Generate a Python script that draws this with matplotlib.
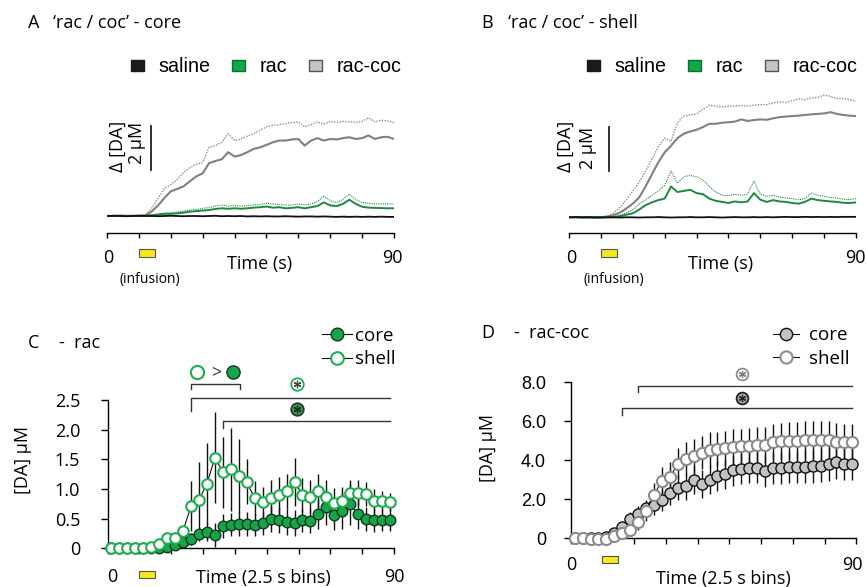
import numpy as np
import matplotlib
matplotlib.use("Agg")
import matplotlib.pyplot as plt
from matplotlib.patches import Rectangle, Patch

plt.rcParams['font.family'] = ['Open Sans', 'DejaVu Sans']

W, H = 866, 587
UM_PX = 22.0  # pixels per uM in the trace panels

# ---- A / B: averaged traces, sampled every 2 s (uM) ----
t_trace = np.arange(0, 91, 2)

core_saline = [0, 0.01, 0, -0.01, 0, 0.01, 0, 0, -0.01, 0,
               0.01, 0, -0.01, 0, 0, -0.01, 0, 0.01, -0.01, 0,
               -0.01, 0, -0.02, -0.01, -0.02, -0.01, -0.02, -0.02, -0.01, -0.02,
               -0.03, -0.02, -0.02, -0.03, -0.02, -0.03, -0.04, -0.03, -0.04, -0.03,
               -0.04, -0.03, -0.04, -0.03, -0.04, -0.04]
core_rac = [0, 0, 0.01, 0, 0, 0.01, 0.01, 0.03, 0.06, 0.1,
            0.1, 0.12, 0.15, 0.2, 0.22, 0.25, 0.27, 0.32, 0.35, 0.33,
            0.35, 0.33, 0.35, 0.38, 0.4, 0.43, 0.38, 0.4, 0.35, 0.37,
            0.4, 0.35, 0.4, 0.45, 0.62, 0.48, 0.45, 0.55, 0.74, 0.55,
            0.42, 0.38, 0.37, 0.36, 0.35, 0.35]
core_rac_hi = [0.02, 0.02, 0.03, 0.02, 0.02, 0.03, 0.03, 0.05, 0.1, 0.12,
               0.15, 0.18, 0.22, 0.27, 0.3, 0.35, 0.38, 0.45, 0.5, 0.45,
               0.48, 0.45, 0.48, 0.5, 0.52, 0.58, 0.55, 0.52, 0.5, 0.5,
               0.55, 0.5, 0.55, 0.65, 0.9, 0.7, 0.62, 0.75, 1.0, 0.75,
               0.62, 0.58, 0.55, 0.55, 0.55, 0.55]
core_raccoc = [0, 0, 0.01, 0, 0.01, 0, 0.02, 0.2, 0.48, 0.82,
               1.12, 1.23, 1.35, 1.58, 1.8, 1.94, 2.4, 2.5, 2.58, 2.9,
               2.7, 2.77, 2.9, 3.05, 3.12, 3.23, 3.35, 3.43, 3.43, 3.48,
               3.5, 3.2, 3.43, 3.54, 3.43, 3.5, 3.48, 3.54, 3.58, 3.5,
               3.54, 3.66, 3.5, 3.58, 3.6, 3.5]
core_raccoc_hi = [0.02, 0.03, 0.02, 0.03, 0.02, 0.03, 0.05, 0.35, 0.8, 1.25,
                  1.43, 1.66, 1.97, 2.2, 2.35, 2.43, 3.12, 3.2, 3.35, 3.74,
                  3.43, 3.5, 3.63, 3.74, 3.9, 4.05, 4.12, 4.15, 4.2, 4.25,
                  4.28, 4.05, 4.15, 4.28, 4.18, 4.3, 4.25, 4.3, 4.28, 4.25,
                  4.3, 4.46, 4.28, 4.35, 4.32, 4.25]

shell_saline = [0, 0.01, 0, 0.01, 0, -0.01, 0, 0, -0.01, 0,
                0, -0.01, 0, 0, 0.01, 0, -0.01, 0, 0, 0.01,
                0, 0, 0.01, 0, -0.01, 0, 0.01, 0, 0, 0.01,
                0, 0.01, 0, 0.01, 0.02, 0.01, 0.01, 0.02, 0.01, 0.02,
                0.01, 0.02, 0.01, 0.02, 0.02, 0.02]
shell_rac = [0, 0, -0.01, 0, -0.01, 0, 0, 0, 0.05, 0.12,
             0.18, 0.35, 0.55, 0.68, 0.78, 0.85, 1.4, 1.15, 1.2, 1.25,
             1.1, 1.05, 0.85, 0.75, 0.7, 0.65, 0.72, 0.68, 0.72, 1.1,
             0.8, 0.7, 0.78, 0.72, 0.7, 0.65, 0.62, 0.7, 0.85, 0.78,
             0.75, 0.72, 0.7, 0.66, 0.65, 0.68]
shell_rac_hi = [0.01, 0.02, 0.01, 0.02, 0.01, 0.02, 0.02, 0.03, 0.1, 0.2,
                0.35, 0.6, 0.8, 1.0, 1.2, 1.45, 2.1, 1.55, 1.85, 1.9,
                1.85, 1.7, 1.4, 1.15, 1.0, 0.98, 1.05, 1.0, 1.05, 1.65,
                1.05, 0.95, 1.0, 0.92, 0.88, 0.85, 0.8, 0.85, 1.1, 1.0,
                0.95, 0.9, 0.88, 0.82, 0.8, 0.85]
shell_raccoc = [0, 0.01, 0, -0.02, -0.02, 0, 0.03, 0.1, 0.22, 0.4,
                0.62, 0.9, 1.4, 1.95, 2.5, 2.95, 3.25, 3.6, 3.8, 3.9,
                3.98, 4.1, 4.25, 4.25, 4.3, 4.32, 4.35, 4.45, 4.38, 4.42,
                4.45, 4.43, 4.5, 4.55, 4.58, 4.6, 4.62, 4.65, 4.68, 4.7,
                4.72, 4.78, 4.7, 4.65, 4.62, 4.6]
shell_raccoc_hi = [0.02, 0.03, 0.02, 0, 0, 0.03, 0.05, 0.2, 0.45, 0.8,
                   1.2, 1.6, 2.1, 2.65, 3.2, 3.6, 3.45, 4.3, 4.6, 4.65,
                   4.7, 4.9, 5.1, 5.05, 5.02, 5.05, 5.05, 5.08, 5.05, 5.1,
                   5.12, 5.12, 5.2, 5.25, 5.22, 5.3, 5.38, 5.35, 5.42, 5.45,
                   5.55, 5.5, 5.4, 5.4, 5.35, 5.28]

# ---- C / D: 2.5 s bins (mean, SEM) ----
t_bins = np.arange(1.25, 90, 2.5)

rac_core = [0, 0, 0, 0, 0, 0, 0.01, 0.03, 0.06, 0.1,
            0.15, 0.24, 0.28, 0.23, 0.37, 0.4, 0.41, 0.41, 0.39, 0.42,
            0.49, 0.48, 0.44, 0.42, 0.47, 0.46, 0.58, 0.69, 0.56, 0.63,
            0.74, 0.58, 0.5, 0.47, 0.47, 0.48]
rac_core_sem = [0.02, 0.02, 0.02, 0.02, 0.02, 0.02, 0.03, 0.04, 0.05, 0.06,
                0.1, 0.12, 0.15, 0.2, 0.2, 0.2, 0.2, 0.2, 0.18, 0.2,
                0.22, 0.22, 0.22, 0.22, 0.2, 0.2, 0.25, 0.3, 0.25, 0.3,
                0.35, 0.25, 0.2, 0.2, 0.18, 0.18]
rac_shell = [0, 0, 0.01, 0.01, 0, 0.03, 0.07, 0.17, 0.17, 0.3,
             0.71, 0.82, 1.09, 1.53, 1.28, 1.33, 1.22, 1.12, 0.84, 0.78,
             0.85, 0.9, 0.96, 1.12, 0.9, 0.87, 0.96, 0.87, 0.76, 0.79,
             0.93, 0.93, 0.91, 0.8, 0.79, 0.78]
rac_shell_sem = [0.02, 0.02, 0.02, 0.02, 0.02, 0.03, 0.04, 0.06, 0.06, 0.08,
                 0.42, 0.64, 0.68, 0.76, 0.6, 0.7, 0.63, 0.38, 0.3, 0.25,
                 0.3, 0.3, 0.3, 0.4, 0.28, 0.28, 0.3, 0.28, 0.25, 0.25,
                 0.22, 0.22, 0.2, 0.2, 0.18, 0.15]

raccoc_core = [0, 0, 0, 0, 0.05, 0.28, 0.6, 0.98, 1.27, 1.53,
               1.7, 1.95, 2.33, 2.6, 2.66, 2.97, 2.8, 3.0, 3.19, 3.31,
               3.48, 3.57, 3.62, 3.62, 3.45, 3.62, 3.62, 3.68, 3.68, 3.68,
               3.7, 3.73, 3.79, 3.9, 3.79, 3.82]
raccoc_core_sem = [0.08, 0.08, 0.08, 0.08, 0.1, 0.15, 0.25, 0.35, 0.4, 0.45,
                   0.5, 0.55, 0.6, 0.65, 0.7, 0.72, 0.72, 0.75, 0.75, 0.78,
                   0.78, 0.8, 0.8, 0.8, 0.8, 0.82, 0.82, 0.82, 0.82, 0.85,
                   0.85, 0.85, 0.85, 0.85, 0.82, 0.82]
raccoc_shell = [0, 0, -0.03, -0.03, -0.03, 0.1, 0.25, 0.42, 0.85, 1.38,
                2.22, 2.95, 3.14, 3.82, 4.08, 4.22, 4.4, 4.55, 4.58, 4.62,
                4.7, 4.72, 4.75, 4.79, 4.78, 4.96, 4.97, 5.0, 5.0, 5.04,
                5.04, 5.04, 5.04, 4.96, 4.92, 4.96]
raccoc_shell_sem = [0.08, 0.08, 0.08, 0.08, 0.08, 0.12, 0.2, 0.3, 0.4, 0.5,
                    0.6, 0.7, 0.75, 0.8, 0.85, 0.85, 0.85, 0.88, 0.88, 0.9,
                    0.9, 0.9, 0.9, 0.92, 0.92, 0.92, 0.95, 0.95, 0.95, 0.95,
                    0.95, 1.0, 0.98, 0.95, 0.92, 0.9]

GREEN = '#17a349'
GREEN_LINE = '#1b8a3d'
GREEN_EDGE = '#0d3b1d'
GRAY = '#808080'
YELLOW = '#f7e91e'
ARIAL = ['Liberation Sans', 'DejaVu Sans']

fig = plt.figure(figsize=(W / 100, H / 100), dpi=100)


def px_axes(x0, y0, x1, y1):
    return fig.add_axes([x0 / W, 1 - y1 / H, (x1 - x0) / W, (y1 - y0) / H])


def ftext(x, y, s, **kw):
    kw.setdefault('va', 'baseline')
    return fig.text(x / W, 1 - y / H, s, **kw)


def trace_panel(x0, x1, base_px, saline, rac, rac_hi, raccoc, raccoc_hi, bar_t, leg_x):
    top, bottom = 80, 232.7
    ax = px_axes(x0, top, x1, bottom)
    lo = -(bottom - base_px) / UM_PX
    ax.set_xlim(0, 90)
    ax.set_ylim(lo, lo + (bottom - top) / UM_PX)
    ax.plot(t_trace, raccoc_hi, color='#8c8c8c', lw=1.0, ls=(0, (1, 1)))
    ax.plot(t_trace, raccoc, color=GRAY, lw=1.5)
    ax.plot(t_trace, rac_hi, color=GREEN_LINE, lw=0.8, ls=(0, (1, 1)))
    ax.plot(t_trace, rac, color=GREEN_LINE, lw=1.4)
    ax.plot(t_trace, saline, color='#111111', lw=1.3)
    for s in ['left', 'right', 'top']:
        ax.spines[s].set_visible(False)
    ax.spines['bottom'].set_linewidth(1.0)
    ax.set_yticks([])
    ax.set_xticks(range(0, 91, 10))
    ax.set_xticklabels([])
    ax.tick_params(axis='x', direction='out', length=3.5, width=1.0)
    # 2 uM scale bar
    ax.plot([bar_t, bar_t], [2.1, 4.1], color='#222222', lw=1.3)
    frac = (bottom - top)
    ax.add_patch(Rectangle((10, -(257 - bottom) / frac), 5, 8 / frac,
                           transform=ax.get_xaxis_transform(),
                           fc=YELLOW, ec='#555555', lw=0.8, clip_on=False))
    ax.legend([Patch(fc='#1a1a1a', ec='#1a1a1a'), Patch(fc='#12a84a', ec='#0c6e30'),
               Patch(fc='#c4c4c4', ec='#555555')], ['saline', 'rac', 'rac-coc'],
              loc='center left', bbox_to_anchor=(leg_x / W, 1 - 67 / H),
              bbox_transform=fig.transFigure, ncol=3, frameon=False,
              prop={'family': ARIAL, 'size': 14.2}, handlelength=0.65, handleheight=0.5,
              handletextpad=0.75, columnspacing=1.1, borderpad=0, borderaxespad=0)
    return ax


# ---------------- A ----------------
trace_panel(107, 394, 216, core_saline, core_rac, core_rac_hi, core_raccoc, core_raccoc_hi,
            13.8, 131)
ftext(28, 28.3, 'A', fontsize=13)
ftext(53, 28.3, '\u2018rac / coc\u2019 - core', fontsize=13)
ftext(118, 146, '\u0394 [DA]', fontsize=13, rotation=90, ha='center', va='center')
ftext(137, 142.5, '2 \u00b5M', fontsize=13, rotation=90, ha='center', va='center')
ftext(108, 263.3, '0', fontsize=13, ha='center')
ftext(392.5, 263.3, '90', fontsize=13, ha='center')
ftext(260, 268.7, 'Time (s)', fontsize=13, ha='center')
ftext(150, 280, '(infusion)', fontsize=10, ha='center', va='center')

# ---------------- B ----------------
trace_panel(569, 856, 217.3, shell_saline, shell_rac, shell_rac_hi, shell_raccoc, shell_raccoc_hi,
            12.4, 587)
ftext(481, 28.3, 'B', fontsize=13)
ftext(508, 28.3, '\u2018rac / coc\u2019 - shell', fontsize=13)
ftext(566, 146.7, '\u0394 [DA]', fontsize=13, rotation=90, ha='center', va='center')
ftext(588, 148, '2 \u00b5M', fontsize=13, rotation=90, ha='center', va='center')
ftext(571, 263.3, '0', fontsize=13, ha='center')
ftext(855, 263.3, '90', fontsize=13, ha='center')
ftext(720.5, 268.7, 'Time (s)', fontsize=13, ha='center')
ftext(614, 280, '(infusion)', fontsize=10, ha='center', va='center')


def binned_panel(box, ymax, yticks, ylabels, core, core_sem, shell, shell_sem,
                 core_fc, core_ec, shell_ec, ms, pad):
    ax = px_axes(*box)
    ax.set_xlim(0, 90)
    ax.set_ylim(0, ymax)
    for s in ['top', 'right']:
        ax.spines[s].set_visible(False)
    for s in ['left', 'bottom']:
        ax.spines[s].set_linewidth(1.0)
    ax.errorbar(t_bins, core, yerr=core_sem, fmt='none', ecolor='#111111',
                elinewidth=1.0, capsize=0, zorder=2)
    ax.errorbar(t_bins, shell, yerr=shell_sem, fmt='none', ecolor='#111111',
                elinewidth=1.0, capsize=0, zorder=2)
    core_line, = ax.plot(t_bins, core, color='#111111', lw=0.8, marker='o', ms=ms,
                         mfc=core_fc, mec=core_ec, mew=1.0, zorder=3, clip_on=False)
    shell_line, = ax.plot(t_bins, shell, color='#111111', lw=0.8, marker='o', ms=ms,
                          mfc='white', mec=shell_ec, mew=1.5, zorder=4, clip_on=False)
    ax.set_yticks(yticks)
    ax.set_yticklabels(ylabels)
    ax.set_xticks(range(0, 91, 10))
    ax.set_xticklabels([])
    ax.tick_params(axis='y', direction='out', length=4.8, width=1.0, pad=pad, labelsize=13)
    ax.tick_params(axis='x', direction='out', length=4.5, width=1.0)
    return ax, core_line, shell_line


def bracket(ax, x0, x1, y, drop, both=False):
    xs, ys = [x0, x0, x1], [y - drop, y, y]
    if both:
        xs, ys = xs + [x1], ys + [y - drop]
    ax.plot(xs, ys, color='#333333', lw=1.0, clip_on=False)


def star_dot(ax, x, y, fc, ec, sc, ms=9):
    ax.plot([x], [y], marker='o', ms=ms, mfc=fc, mec=ec, mew=1.3, clip_on=False)
    ax.plot([x], [y], marker=(6, 2, 0), ms=ms * 0.6, mec=sc, mew=0.9, clip_on=False)


# ---------------- C ----------------
axc, c_core, c_shell = binned_panel((107.5, 400, 394, 548.3), 2.5,
                                    [0, 0.5, 1, 1.5, 2, 2.5],
                                    ['0', '0.5', '1.0', '1.5', '2.0', '2.5'],
                                    rac_core, rac_core_sem, rac_shell, rac_shell_sem,
                                    GREEN, GREEN_EDGE, '#1fae4f', 7.6, 15)
axc.add_patch(Rectangle((10, -0.2), 5, 0.047, transform=axc.get_xaxis_transform(),
                        fc=YELLOW, ec='#555555', lw=0.8, clip_on=False))
bracket(axc, 26.1, 41.6, 2.77, 0.09, both=True)
bracket(axc, 26.1, 88.7, 2.53, 0.21)
bracket(axc, 36.3, 88.7, 2.15, 0.13)
axc.plot([28.2], [2.97], 'o', ms=9.5, mfc='white', mec='#1fae4f', mew=1.5, clip_on=False)
axc.text(34.3, 2.97, '>', ha='center', va='center', fontsize=13, color='#333333')
axc.plot([39.4], [2.97], 'o', ms=9.5, mfc=GREEN, mec=GREEN_EDGE, mew=1.0, clip_on=False)
star_dot(axc, 59.6, 2.77, 'white', '#1fae4f', '#444444')
star_dot(axc, 59.6, 2.34, '#2aa055', '#333333', '#222222')
axc.legend([c_core, c_shell], ['core', 'shell'], loc='center left',
           bbox_to_anchor=(321.7 / W, 1 - 347.5 / H), bbox_transform=fig.transFigure,
           frameon=False, fontsize=13.5, handlelength=1.6, handletextpad=0.2,
           labelspacing=0.3, borderpad=0, borderaxespad=0, numpoints=1, markerscale=1.2)
ftext(28, 348, 'C', fontsize=13)
ftext(59, 348, '-  rac', fontsize=13)
ftext(22.5, 460, '[DA] \u00b5M', fontsize=13, rotation=90, ha='center', va='center')
ftext(112, 582, '0', fontsize=13, ha='center')
ftext(394, 582, '90', fontsize=13, ha='center')
ftext(263, 583, 'Time (2.5 s bins)', fontsize=13, ha='center')

# ---------------- D ----------------
axd, d_core, d_shell = binned_panel((570.7, 382.3, 856.3, 538.3), 8,
                                    [0, 2, 4, 6, 8], ['0', '2.0', '4.0', '6.0', '8.0'],
                                    raccoc_core, raccoc_core_sem, raccoc_shell, raccoc_shell_sem,
                                    '#c3c3c3', '#111111', '#8c8c8c', 8.0, 13)
for lab in axd.get_yticklabels():
    lab.set_fontfamily(ARIAL)
axd.add_patch(Rectangle((10, -0.158), 5, 0.045, transform=axd.get_xaxis_transform(),
                        fc=YELLOW, ec='#555555', lw=0.8, clip_on=False))
bracket(axd, 21.1, 88.6, 7.83, 0.31)
bracket(axd, 16.1, 88.6, 6.67, 0.35)
star_dot(axd, 53.9, 8.41, 'white', '#8c8c8c', '#777777', ms=8.5)
star_dot(axd, 53.9, 7.21, '#a8a8a8', '#222222', '#222222', ms=8.5)
axd.legend([d_core, d_shell], ['core', 'shell'], loc='center left',
           bbox_to_anchor=(773 / W, 1 - 347 / H), bbox_transform=fig.transFigure,
           frameon=False, fontsize=13.5, handlelength=1.4, handletextpad=0.5,
           labelspacing=0.3, borderpad=0, borderaxespad=0, numpoints=1, markerscale=1.1)
ftext(481, 338, 'D', fontsize=13)
ftext(514, 338, '-  rac-coc', fontsize=13)
ftext(488, 448.5, '[DA] \u00b5M', fontsize=13, rotation=90, ha='center', va='center')
ftext(571.3, 570, '0', fontsize=13, ha='center')
ftext(852, 570, '90', fontsize=13, ha='center')
ftext(723, 584, 'Time (2.5 s bins)', fontsize=13, ha='center')

fig.savefig('out.png', dpi=100)
